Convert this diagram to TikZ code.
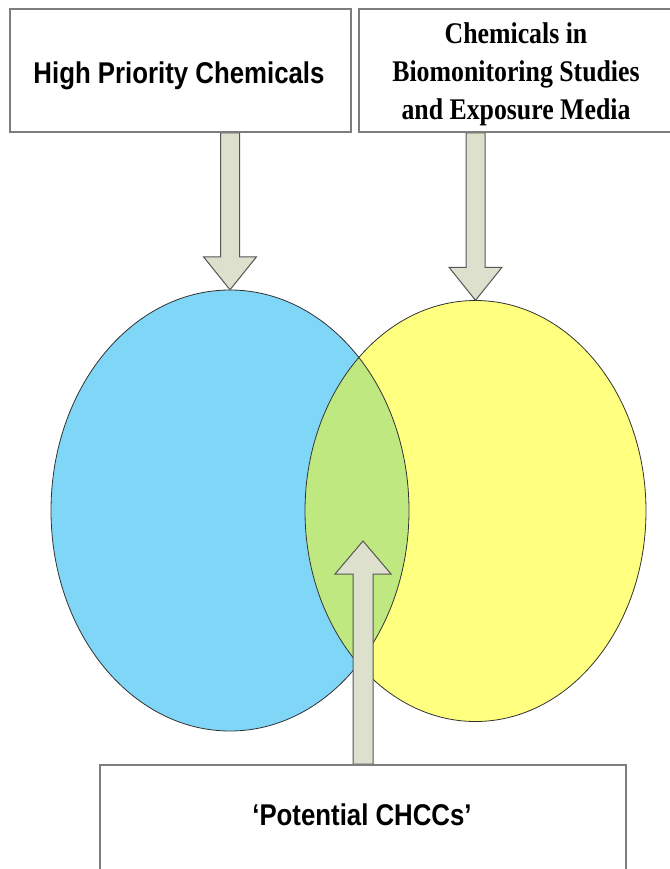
\documentclass[tikz,border=0pt]{standalone}
\usepackage{fontspec}
\setmainfont{Liberation Serif}
\setsansfont{Liberation Sans}
\usetikzlibrary{calc,shapes.geometric}
\definecolor{skyb}{RGB}{128,214,247}
\definecolor{yelw}{RGB}{255,255,128}
\definecolor{grn}{RGB}{192,232,128}
\definecolor{arrfill}{RGB}{221,224,204}
\definecolor{arredge}{RGB}{85,85,85}
\definecolor{boxedge}{RGB}{125,125,125}
\definecolor{elledge}{RGB}{50,50,50}
\pgfdeclarelayer{ell}
\pgfdeclarelayer{arr}
\pgfsetlayers{ell,arr,main}
\newcommand{\blockarrow}[4]{%
  \draw[arrst] let \p1=(#1), \p2=(#2), \p3=($(#2)!33pt!(#1)$) in
    (\x1-#3,\y1) -- (\x1-#3,\y3) -- (\x1-#4,\y3) -- (\x2,\y2) -- (\x1+#4,\y3) -- (\x1+#3,\y3) -- (\x1+#3,\y1) -- cycle;}
\begin{document}
\begin{tikzpicture}[x=1pt,y=-1pt,
  boxst/.style={draw=boxedge, line width=1.8pt, fill=white, inner sep=0pt},
  ellst/.style={ellipse, inner sep=0pt, draw=none},
  ellline/.style={draw=elledge, line width=0.8pt},
  arrst/.style={draw=arredge, fill=arrfill, line width=1pt, line join=miter},
  sanstxt/.style={font=\sffamily\bfseries\fontsize{30}{38}\selectfont, inner sep=0pt},
  seriftxt/.style={font=\rmfamily\bfseries\fontsize{30}{38}\selectfont, inner sep=0pt}]
\useasboundingbox (0,0) rectangle (669,869);
% boxes
\node[boxst, minimum width=341pt, minimum height=123pt] (box1) at (180.5,70.5) {};
\node[boxst, minimum width=331pt, minimum height=123pt] (box2) at (524.5,70.5) {};
\node[boxst, minimum width=526pt, minimum height=125pt] (box3) at (363,827.5) {};
\node[sanstxt, anchor=base] (t1) at (179,83.3) {\scalebox{0.86}[1]{High Priority Chemicals}};
\node[seriftxt] (t2) at (516,74) {\scalebox{0.86}[1]{\begin{tabular}{@{}c@{}}Chemicals in\\Biomonitoring Studies\\and Exposure Media\end{tabular}}};
\node[sanstxt, anchor=base] (t3) at (362,825) {\scalebox{0.86}[1]{‘Potential CHCCs’}};
% ellipses
\begin{pgfonlayer}{ell}
\node[ellst, fill=skyb, minimum width=358pt, minimum height=441pt] (blue) at (230,510.5) {};
\node[ellst, fill=yelw, minimum width=341pt, minimum height=421pt] (yellow) at (475.5,511) {};
\begin{scope}
\clip (blue.center) ellipse [x radius=179pt, y radius=220.5pt];
\fill[grn] (yellow.center) ellipse [x radius=170.5pt, y radius=210.5pt];
\end{scope}
\draw[ellline] (blue.center) ellipse [x radius=179pt, y radius=220.5pt];
\draw[ellline] (yellow.center) ellipse [x radius=170.5pt, y radius=210.5pt];
\end{pgfonlayer}
% arrows
\begin{pgfonlayer}{arr}
\coordinate (tip3) at (363,541);
\blockarrow{blue.north |- box1.south}{blue.north}{9.5pt}{26.5pt}
\blockarrow{yellow.north |- box2.south}{yellow.north}{9.5pt}{26.5pt}
\blockarrow{tip3 |- box3.north}{tip3}{10pt}{28pt}
\end{pgfonlayer}
\end{tikzpicture}
\end{document}
